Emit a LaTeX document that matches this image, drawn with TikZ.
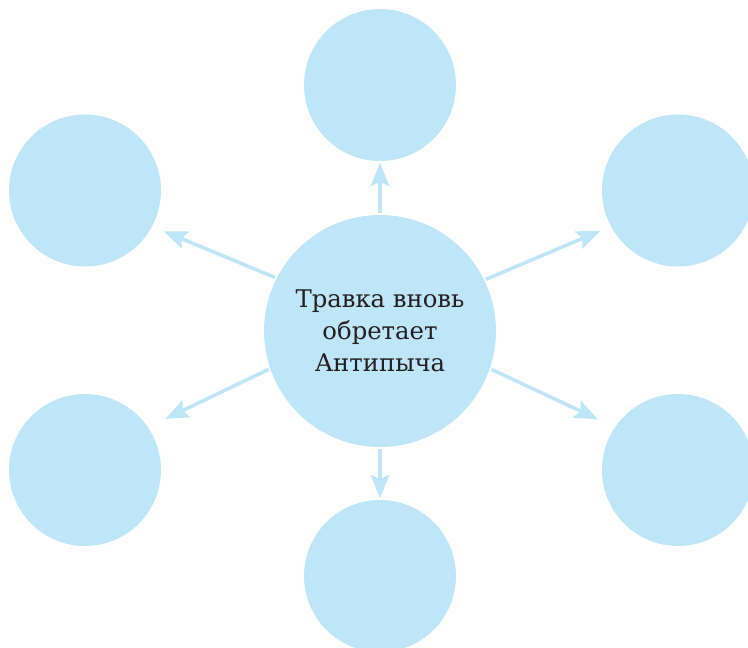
\documentclass[tikz,border=0pt]{standalone}
\usepackage{fontspec}
\setmainfont{DejaVu Serif}
\usetikzlibrary{arrows.meta}
\definecolor{skyfill}{RGB}{190,230,248}
\definecolor{ink}{RGB}{35,31,32}

\begin{document}
\begin{tikzpicture}[line width=2.5pt,>={Stealth[length=5.8mm,width=4.6mm,inset=1mm]},
  bubble/.style={circle,fill=skyfill,minimum size=3.8cm,inner sep=0pt},
  hub/.style={circle,fill=skyfill,minimum size=5.8cm,inner sep=0pt,text=ink,align=center,font=\fontsize{17.3}{22.8}\selectfont},
  link/.style={->,draw=skyfill}]
  \useasboundingbox (0,0) rectangle (18.7,-16.2);
  % centre
  \node[hub] (c) at (9.5,-8.275){Травка вновь\\обретает\\Антипыча};
  % outer circles
  \node[bubble] (t) at (9.5,-2.125){};
  \node[bubble] (b) at (9.5,-14.4){};
  \node[bubble] (tl) at (2.125,-4.7625){};
  \node[bubble] (tr) at (16.95,-4.7625){};
  \node[bubble] (bl) at (2.125,-11.75){};
  \node[bubble] (br) at (16.95,-11.75){};
  % arrows
  \draw[link] (c.north)--(t.south);
  \draw[link] (c.south)--(b.north);
  \draw[link,shorten >=2.75mm] (c.153.7)--(tl.332.3);
  \draw[link,shorten >=2.5mm] (c.26.3)--(tr.208);
  \draw[link,shorten >=4.4mm] (c.199.5)--(bl.34.5);
  \draw[link,shorten >=4.3mm] (c.-19.5)--(br.146);
\end{tikzpicture}
\end{document}
